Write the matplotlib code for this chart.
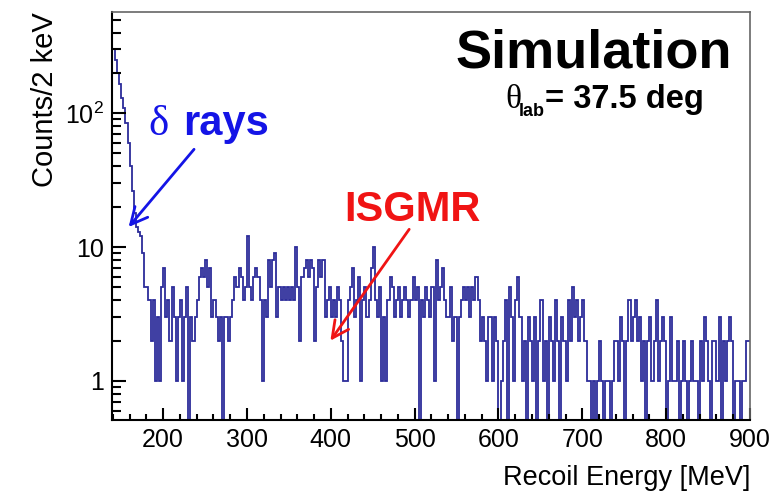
import matplotlib
matplotlib.use("Agg")
import matplotlib.pyplot as plt
import numpy as np
from matplotlib.ticker import FixedLocator, MultipleLocator, LogLocator, NullFormatter

plt.rcParams['font.family'] = ['Liberation Sans', 'DejaVu Sans']
plt.rcParams['mathtext.fontset'] = 'custom'
plt.rcParams['mathtext.rm'] = 'Liberation Sans'

# histogram: 2.5 MeV bins starting at 140 MeV
e_start = 140.0
bin_width = 2.5

counts_140_290 = [300, 250, 200, 165, 130, 110, 85, 60, 40, 26, 18, 14, 13, 12, 9, 5, 5, 4, 2, 4,
                  1, 3, 1, 5, 7, 3, 4, 2, 5, 3, 1, 3, 4, 1, 3, 5, 0, 3, 2, 3,
                  4, 6, 7, 6, 8, 5, 7, 3, 4, 3, 2, 3, 0, 3, 3, 2, 3, 4, 6, 5]
counts_290_440 = [7, 6, 4, 5, 12, 5, 4, 6, 7, 6, 4, 1, 4, 3, 8, 5, 8, 9, 3, 5,
                  4, 5, 4, 5, 4, 5, 4, 10, 5, 2, 6, 7, 8, 6, 8, 7, 2, 5, 8, 6,
                  8, 3, 4, 5, 3, 4, 3, 5, 4, 2, 1, 1, 4, 5, 7, 3, 4, 6, 1, 4]
counts_440_590 = [5, 3, 4, 7, 10, 4, 3, 5, 1, 3, 1, 4, 6, 5, 3, 4, 5, 3, 4, 5,
                  4, 3, 4, 6, 4, 5, 0, 4, 3, 5, 4, 3, 5, 1, 8, 4, 5, 7, 4, 3,
                  3, 5, 2, 3, 0, 3, 4, 5, 4, 5, 3, 5, 4, 6, 4, 2, 3, 2, 1, 3]
counts_590_740 = [3, 1, 3, 2, 0, 1, 2, 4, 0, 5, 3, 1, 4, 6, 3, 1, 2, 0, 3, 2,
                  1, 3, 0, 2, 4, 1, 2, 0, 3, 2, 1, 4, 2, 0, 3, 2, 1, 4, 2, 5,
                  3, 4, 2, 3, 4, 2, 1, 1, 0, 1, 0, 1, 2, 1, 0, 1, 1, 0, 1, 2]
counts_740_900 = [2, 1, 3, 2, 0, 2, 4, 2, 3, 4, 2, 3, 1, 2, 0, 2, 3, 1, 2, 4,
                  1, 2, 3, 2, 0, 1, 3, 1, 1, 2, 0, 1, 2, 1, 0, 1, 2, 1, 1, 0,
                  2, 1, 3, 2, 1, 0, 2, 2, 1, 3, 0, 2, 1, 2, 3, 2, 0, 1, 1, 0, 1, 1, 2, 2]

counts = np.array(counts_140_290 + counts_290_440 + counts_440_590 + counts_590_740 + counts_740_900, dtype=float)
edges = e_start + bin_width * np.arange(len(counts) + 1)

# empty bins are drawn down to the frame on the log axis
plot_counts = np.where(counts > 0, counts, 0.1)

y_ticks = [1, 10, 100]
y_ticklabels = ['1', '10', '10$^2$']

hist_color = '#2c2c9a'
blue = '#1414e6'
red = '#f01414'

fig = plt.figure(figsize=(7.8, 4.99), dpi=100)
ax = fig.add_axes([112 / 780, 79 / 499, 638 / 780, 408 / 499])

ax.stairs(plot_counts, edges, color=hist_color, lw=1.3, baseline=None)

ax.set_yscale('log')
ax.set_xlim(139, 900)
ax.set_ylim(0.51, 570)

ax.xaxis.set_major_locator(MultipleLocator(100))
ax.xaxis.set_minor_locator(MultipleLocator(20))
ax.yaxis.set_major_locator(FixedLocator(y_ticks))
ax.set_yticklabels(y_ticklabels)
ax.yaxis.set_minor_locator(LogLocator(base=10, subs=np.arange(2, 10)))
ax.yaxis.set_minor_formatter(NullFormatter())

ax.tick_params(axis='both', which='both', direction='in', top=False, right=False, width=1.5, labelsize=18)
ax.tick_params(axis='x', which='major', length=9, pad=6)
ax.tick_params(axis='x', which='minor', length=4.5)
ax.tick_params(axis='y', which='major', length=10, pad=6)
ax.tick_params(axis='y', which='minor', length=6.5)

for side in ['left', 'bottom']:
    ax.spines[side].set_linewidth(1.5)
for side in ['top', 'right']:
    ax.spines[side].set_color('#666666')
    ax.spines[side].set_linewidth(1.2)

ax.set_xlabel('Recoil Energy [MeV]', fontsize=19.5, loc='right', labelpad=9)
ax.set_ylabel('Counts/2 keV', fontsize=21, loc='top', labelpad=4)

# annotations
ax.annotate('', xy=(156.7, 13.6), xytext=(239, 55.7),
            arrowprops=dict(arrowstyle='->', color=blue, lw=2, mutation_scale=30))
ax.annotate('', xy=(397.6, 1.92), xytext=(495.4, 14.1),
            arrowprops=dict(arrowstyle='->', color=red, lw=2, mutation_scale=30))

ax.text(194.9, 68.5, 'δ', family=['Liberation Serif', 'DejaVu Serif'], fontsize=31,
        color=blue, ha='center', va='baseline')
ax.text(223.5, 68.5, 'rays', fontsize=30, fontweight='bold', color=blue, ha='left', va='baseline')
ax.text(415.5, 15.6, 'ISGMR', fontsize=30, fontweight='bold', color=red, ha='left', va='baseline')

fig.text(455 / 780, 1 - 68 / 499, 'Simulation', fontsize=39, fontweight='bold', ha='left', va='baseline')
fig.text(505 / 780, 1 - 108 / 499, 'θ', family=['Liberation Serif', 'DejaVu Serif'], fontsize=24,
         ha='left', va='baseline')
fig.text(519 / 780, 1 - 116 / 499, 'lab', fontsize=13, fontweight='bold', ha='left', va='baseline')
fig.text(545 / 780, 1 - 108 / 499, '= 37.5 deg', fontsize=23.5, fontweight='bold', ha='left', va='baseline')

fig.savefig('out.png', dpi=100)
